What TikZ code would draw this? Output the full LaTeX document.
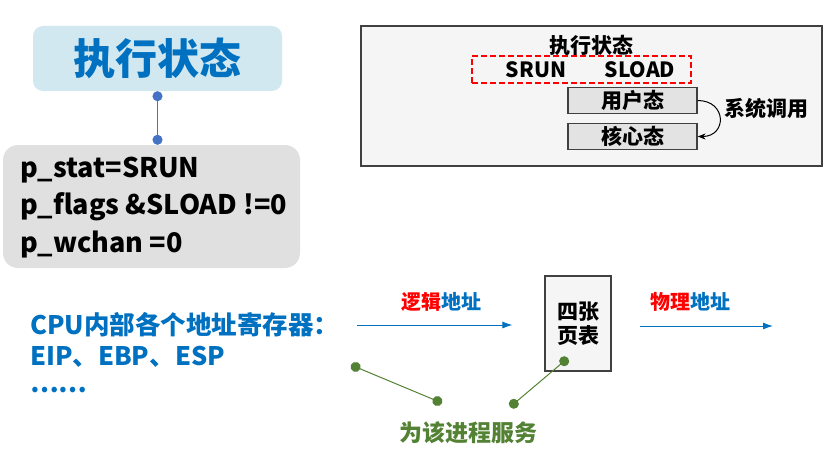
\documentclass[tikz,border=0pt]{standalone}
\usepackage{fontspec}
\setmainfont{Noto Sans CJK SC}
\usetikzlibrary{positioning,arrows.meta}
\definecolor{ppblue}{HTML}{0070C0}
\definecolor{pplight}{HTML}{D2E8F0}
\definecolor{ppgreen}{HTML}{548235}
\definecolor{ppdot}{HTML}{4472C4}
\definecolor{ppframe}{HTML}{404040}
\begin{document}
\begin{tikzpicture}[x=1pt,y=-1pt,
  every node/.style = {font=\bfseries},
  title/.style = {fill=pplight, rounded corners=10pt, text=ppblue, minimum width=249pt, minimum height=65pt, font=\bfseries\fontsize{42}{48}\selectfont},
  vars/.style = {fill=black!12, rounded corners=15pt, minimum width=297pt, minimum height=123pt},
  varstext/.style = {align=left, inner sep=0pt, anchor=west, font=\bfseries\fontsize{27}{37.5}\selectfont},
  panel/.style = {draw=ppframe, line width=1.2pt, fill=black!4, minimum width=461pt, minimum height=140pt},
  small/.style = {font=\bfseries\fontsize{21}{24}\selectfont},
  mode/.style = {draw=ppframe, line width=1.2pt, fill=black!11, minimum width=129pt, minimum height=26pt, inner sep=0pt, font=\bfseries\fontsize{21}{24}\selectfont},
  regs/.style = {text=ppblue, anchor=west, inner sep=0pt, font=\bfseries\fontsize{25.5}{30}\selectfont},
  table/.style = {draw=ppframe, line width=1.2pt, fill=black!4, minimum width=66pt, minimum height=95pt, align=center, font=\bfseries\fontsize{21}{24}\selectfont},
  flow/.style = {-{Latex[length=10pt,width=7pt]}, ppblue, line width=1pt},
  link/.style = {{Circle[length=10pt]}-{Circle[length=10pt]}, line width=1pt}]
  \useasboundingbox (0,0) rectangle (838,460);

  % left side
  \node[title] (state) at (157.5,58.5) {执行状态};
  \node[vars] (vars) at (151.5,206.5) {};
  \node[varstext] (fields) at ([xshift=17pt, yshift=-1pt]vars.west) {p\_stat=SRUN\\p\_flags \&SLOAD !=0\\p\_wchan =0};
  \draw[link, ppdot] (state.south) -- (vars.north -| state.south);

  % process state panel
  \node[panel] (panel) at (591.5,96) {};
  \node[small] (pstate) at (591,45) {执行状态};
  \node[draw=red, line width=1.5pt, dash pattern=on 6pt off 3pt, minimum width=219pt, minimum height=27pt] (flags) at (581.5,69.5) {};
  \node[small] (srun) at (536,70) {SRUN};
  \node[small] (sload) at (640,70) {SLOAD};
  \node[mode] (user) at (632.5,100.5) {用户态};
  \node[mode] (kernel) at (632.5,136.5) {核心态};
  \node[small] (syscall) at (766,108) {系统调用};
  \draw[-{Stealth[length=8pt,width=6pt]}, line width=1pt] (user.east) to[out=0, in=0, looseness=2.1] (kernel.east);

  % address translation
  \node[regs] (cpu) at (30,325) {CPU内部各个地址寄存器：};
  \node[regs] (eip) at (30,357) {EIP、EBP、ESP};
  \node[regs] (more) at (30,390) {……};
  \node[table] (pt) at (578,323.5) {四张\\页表};
  \coordinate (logic start) at (357,325);
  \coordinate (phys) at (773,326);
  \draw[flow, shorten >=32pt] (logic start) -- (logic start -| pt.west);
  \draw[flow, shorten <=28pt] (pt.east |- phys) -- (phys);
  \node[font=\bfseries\fontsize{20}{24}\selectfont] (logic) at (441,302) {\textcolor{red}{逻辑}\textcolor{ppblue}{地址}};
  \node[font=\bfseries\fontsize{20}{24}\selectfont] (physlbl) at (690,302) {\textcolor{red}{物理}\textcolor{ppblue}{地址}};

  % process service
  \node[text=ppgreen, font=\bfseries\fontsize{23}{28}\selectfont] (serve) at (468,433) {为该进程服务};
  \coordinate (g1) at (351,365);
  \coordinate (g2) at (442,403);
  \coordinate (g3) at (568,358);
  \coordinate (g4) at (510,407);
  \draw[link, ppgreen] (g1) -- (g2);
  \draw[link, ppgreen] (g3) -- (g4);
\end{tikzpicture}
\end{document}
